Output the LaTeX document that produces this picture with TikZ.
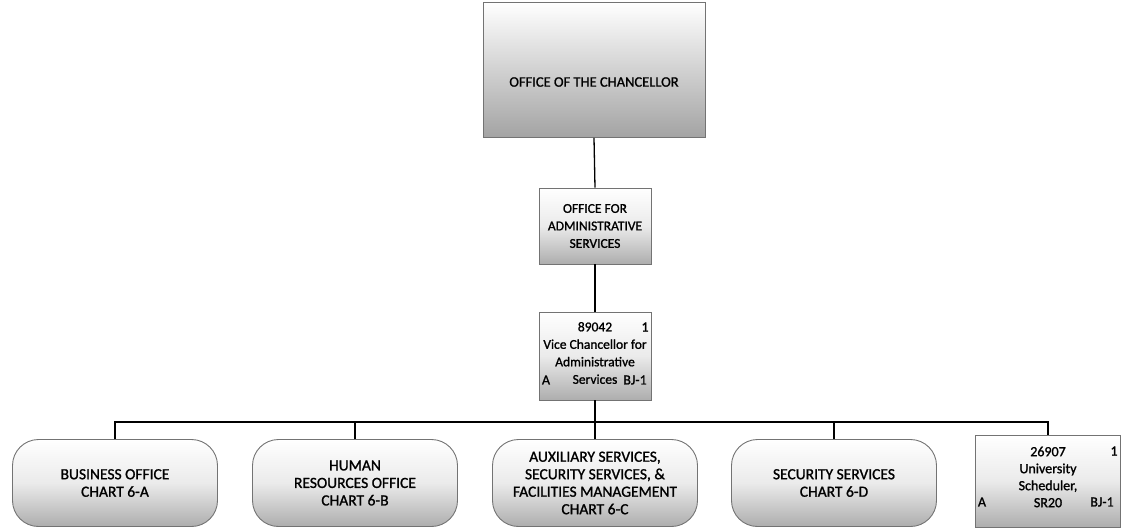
\documentclass[tikz,border=0pt]{standalone}
\usepackage{fontspec}
\setmainfont{Carlito}[BoldFont=Carlito, BoldFeatures={FakeBold=1.2}]
\begin{document}
\begin{tikzpicture}[x=1pt,y=-1pt,
  txt/.style={font=\bfseries\fontsize{15.5}{17.5}\selectfont, align=center, inner sep=0pt},
  box/.style={draw=black!55, line width=0.9pt, top color=white, bottom color=black!32, middle color=black!8, inner sep=0pt},
  pill/.style={box, rounded corners=26pt, minimum width=205pt, minimum height=87pt, txt},
  conn/.style={draw=black, line width=1.3pt},
  corner/.style={inner sep=0pt, font=\bfseries\fontsize{14}{16}\selectfont}]
\useasboundingbox (0,0) rectangle (1125,531);

% top box
\node[box, minimum width=222pt, minimum height=135pt, top color=white, middle color=white, bottom color=black!36] (chanc) at (594,70) {};
\node[txt, font=\bfseries\fontsize{14.5}{17}\selectfont] (chanct) at (594,82) {OFFICE OF THE CHANCELLOR};

% office for administrative services
\node[box, minimum width=112pt, minimum height=76pt, txt, font=\bfseries\fontsize{13.5}{17.5}\selectfont] (oas) at (595,226) {OFFICE FOR\\ADMINISTRATIVE\\SERVICES};

% vice chancellor
\node[box, minimum width=112pt, minimum height=88pt] (vc) at (595,356) {};
\node[txt, font=\bfseries\fontsize{13.5}{17.5}\selectfont] (vct) at (595,353) {89042\\Vice Chancellor for\\Administrative\\Services};
\node[corner] (vc1) at (645,327) {1};
\node[corner] (vca) at (546,380) {A};
\node[corner] (vcb) at (635,380) {BJ-1};

% bottom row
\node[pill] (bo) at (115,483) {BUSINESS OFFICE\\CHART 6-A};
\node[pill] (hr) at (355,483) {HUMAN\\RESOURCES OFFICE\\CHART 6-B};
\node[pill] (aux) at (595,483) {AUXILIARY SERVICES,\\SECURITY SERVICES, \&\\FACILITIES MANAGEMENT\\CHART 6-C};
\node[pill] (sec) at (834,483) {SECURITY SERVICES\\CHART 6-D};

\node[box, minimum width=145pt, minimum height=92pt] (sc) at (1048,481) {};
\node[txt, font=\bfseries\fontsize{14}{17}\selectfont] (sct) at (1048,477) {26907\\University\\Scheduler,\\SR20};
\node[corner] (sc1) at (1114,451) {1};
\node[corner] (sca) at (982,502) {A};
\node[corner] (scb) at (1102,502) {BJ-1};

% connectors
\coordinate (bar) at (595,422);
\draw[conn] (chanc.south) -- (oas.north);
\draw[conn] (oas.south) -- (vc.north);
\draw[conn] (vc.south) -- (bar);
\draw[conn] (bo.north) |- (bar) -| (sc.north);
\draw[conn] (hr.north) -- (hr.north |- bar);
\draw[conn] (aux.north) -- (aux.north |- bar);
\draw[conn] (sec.north) -- (sec.north |- bar);
\end{tikzpicture}
\end{document}
